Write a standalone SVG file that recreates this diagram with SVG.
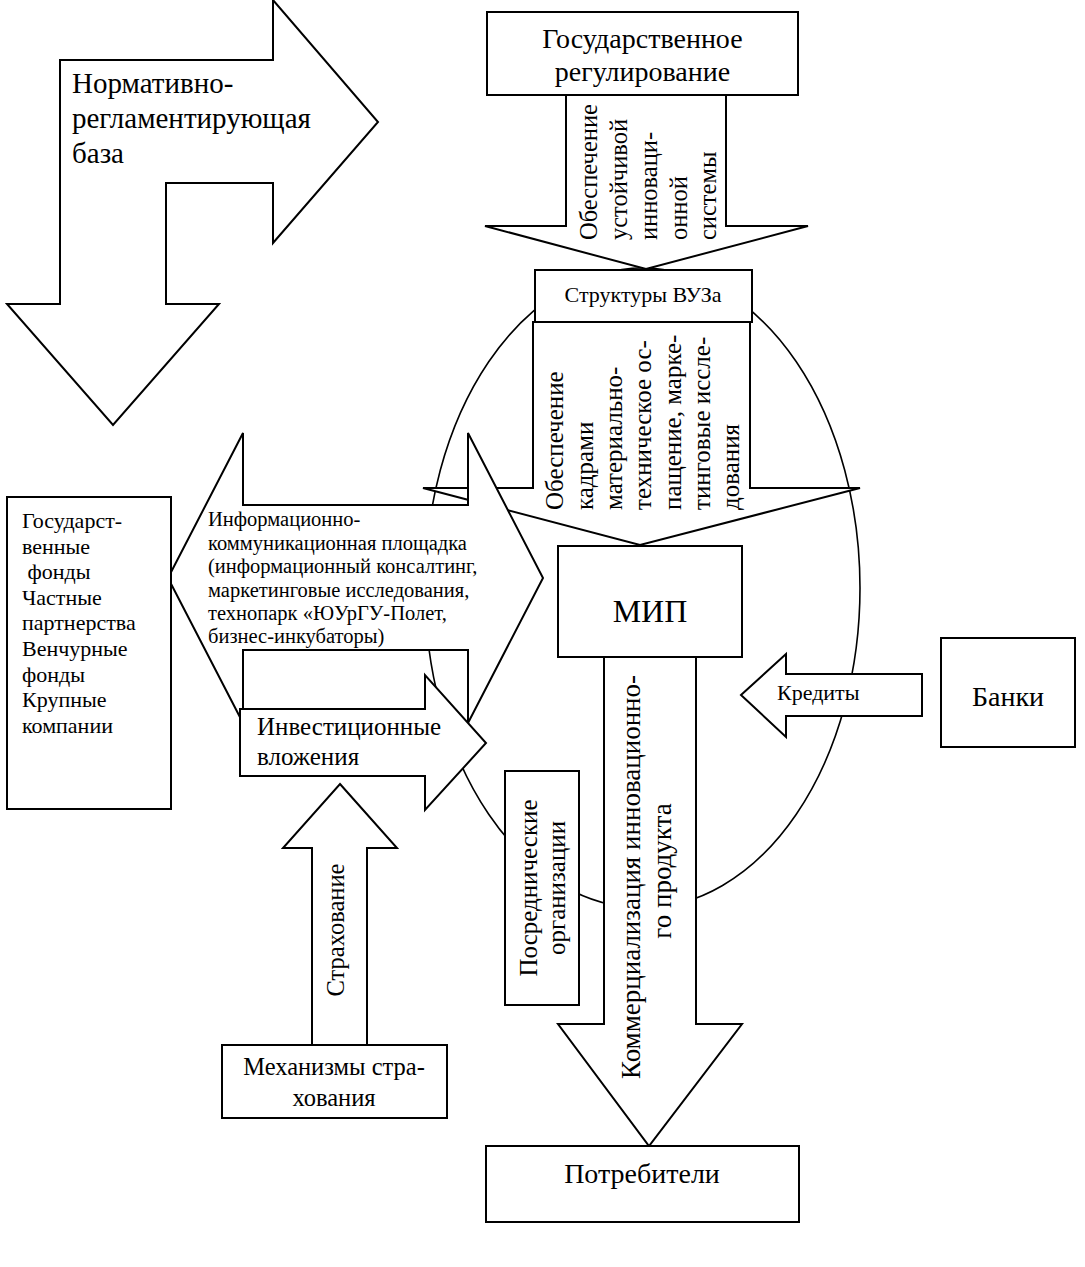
<svg xmlns="http://www.w3.org/2000/svg" width="1085" height="1267" viewBox="0 0 1085 1267">
<style>
.s{fill:#fff;stroke:#000;stroke-width:2;stroke-linejoin:miter}
.e{fill:none;stroke:#000;stroke-width:1.6}
text{font-family:"Liberation Serif","Times New Roman",serif;fill:#000}
.f29{font-size:29px}.f28{font-size:28px}.f25{font-size:25px}.f24{font-size:24.5px}.f22{font-size:22px}.f20{font-size:20.5px}.f32{font-size:32px}.f27{font-size:27px}
.m{text-anchor:middle}
</style>
<rect width="1085" height="1267" fill="#fff"/>
<g id="connectors">
  <ellipse id="cycle" class="e" cx="642.5" cy="588" rx="217.5" ry="320"/>
  <g id="arrow-gov">
    <polygon class="s" points="566,95 726,95 726,226 808,226 646,269 485,226 566,226"/>
    <g class="f24">
      <text transform="translate(597,240) rotate(-90)">Обеспечение</text>
      <text transform="translate(627,240) rotate(-90)">устойчивой</text>
      <text transform="translate(657,240) rotate(-90)">инноваци-</text>
      <text transform="translate(687,240) rotate(-90)">онной</text>
      <text transform="translate(716,240) rotate(-90)">системы</text>
    </g>
  </g>
  <g id="arrow-vuz">
    <polygon class="s" points="533,322 750,322 750,488 860,488 640,545 423,488 533,488"/>
    <g class="f25">
      <text transform="translate(563,510) rotate(-90)">Обеспечение</text>
      <text transform="translate(592.5,510) rotate(-90)">кадрами</text>
      <text transform="translate(622,510) rotate(-90)">материально-</text>
      <text transform="translate(651,510) rotate(-90)">техническое ос-</text>
      <text transform="translate(680.5,510) rotate(-90)">пащение, марке-</text>
      <text transform="translate(710,510) rotate(-90)">тинговые иссле-</text>
      <text transform="translate(739,510) rotate(-90)">дования</text>
    </g>
  </g>
  <g id="info-platform">
    <polygon class="s" points="168,578 243,433 243,505 468,505 468,433 543,578 468,723 468,650 243,650 243,723"/>
    <g class="f20">
      <text x="208" y="526">Информационно-</text>
      <text x="208" y="550">коммуникационная площадка</text>
      <text x="208" y="573">(информационный консалтинг,</text>
      <text x="208" y="597">маркетинговые исследования,</text>
      <text x="208" y="620">технопарк «ЮУрГУ-Полет,</text>
      <text x="208" y="643">бизнес-инкубаторы)</text>
    </g>
  </g>
  <g id="arrow-invest">
    <polygon class="s" points="240,709 425,709 425,675 486,743 425,810 425,776 240,776"/>
    <text class="f25" x="257" y="735">Инвестиционные</text>
    <text class="f25" x="257" y="765">вложения</text>
  </g>
  <g id="arrow-insurance">
    <polygon class="s" points="340,784 397,848 367,848 367,1045 312,1045 312,848 283,848"/>
    <text class="f24 m" transform="translate(344,930) rotate(-90)">Страхование</text>
  </g>
  <g id="arrow-commercial">
    <polygon class="s" points="604,657 696,657 696,1024 742,1024 649,1146 558,1024 604,1024"/>
    <text class="f27 m" transform="translate(640,877) rotate(-90)">Коммерциализация инновационно-</text>
    <text class="f27 m" transform="translate(671,871) rotate(-90)">го продукта</text>
  </g>
  <g id="arrow-credits">
    <polygon class="s" points="741,695 786,654 786,674 922,674 922,716 786,716 786,737"/>
    <text class="f22" x="777" y="700">Кредиты</text>
  </g>
</g>
<g id="norm-base">
  <polygon class="s" points="60,60 273,60 273,0 378,122 273,243 273,183 166,183 166,304 219,304 113,425 7,304 60,304"/>
  <text class="f29" x="72" y="93">Нормативно-</text>
  <text class="f29" x="72" y="128">регламентирующая</text>
  <text class="f29" x="72" y="163">база</text>
</g>
<g id="gov-regulation">
  <rect class="s" x="487" y="12" width="311" height="83"/>
  <text class="f28 m" x="642.5" y="48">Государственное</text>
  <text class="f28 m" x="642.5" y="81">регулирование</text>
</g>
<g id="vuz-structures">
  <rect class="s" x="535" y="270" width="217" height="52"/>
  <text class="f22 m" x="643" y="302">Структуры ВУЗа</text>
</g>
<g id="funds">
  <rect class="s" x="7" y="497" width="164" height="312"/>
  <g class="f22">
    <text x="22" y="528">Государст-</text>
    <text x="22" y="553.6">венные</text>
    <text x="22" y="579.2" xml:space="preserve"> фонды</text>
    <text x="22" y="604.8">Частные</text>
    <text x="22" y="630.4">партнерства</text>
    <text x="22" y="656">Венчурные</text>
    <text x="22" y="681.6">фонды</text>
    <text x="22" y="707.2">Крупные</text>
    <text x="22" y="732.8">компании</text>
  </g>
</g>
<g id="mip">
  <rect class="s" x="558" y="546" width="184" height="111"/>
  <text class="f32 m" x="650" y="622">МИП</text>
</g>
<g id="banks">
  <rect class="s" x="941" y="638" width="134" height="109"/>
  <text class="f28 m" x="1008" y="706">Банки</text>
</g>
<g id="intermediaries">
  <rect class="s" x="505" y="771" width="74" height="234"/>
  <text class="f25 m" transform="translate(537,888) rotate(-90)">Посреднические</text>
  <text class="f25 m" transform="translate(565,888) rotate(-90)">организации</text>
</g>
<g id="insurance-mechanisms">
  <rect class="s" x="222" y="1045" width="225" height="73"/>
  <text class="f24 m" x="334" y="1075">Механизмы стра-</text>
  <text class="f24 m" x="334" y="1106">хования</text>
</g>
<g id="consumers">
  <rect class="s" x="486" y="1146" width="313" height="76"/>
  <text class="f28 m" x="642" y="1183">Потребители</text>
</g>
</svg>
